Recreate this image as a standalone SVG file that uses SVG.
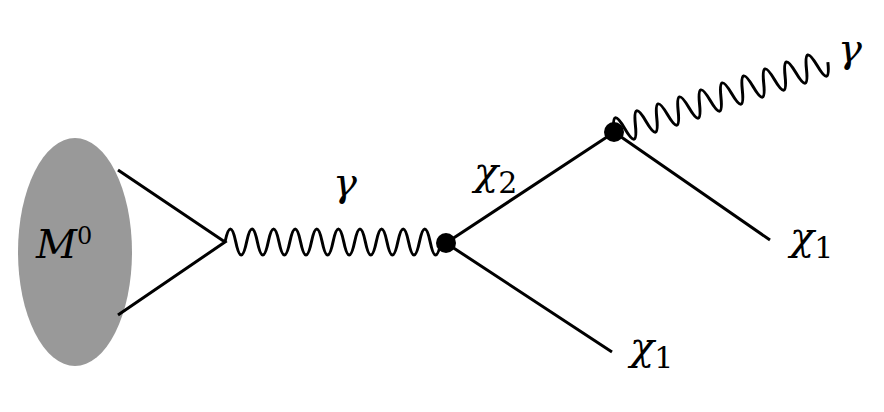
<svg xmlns="http://www.w3.org/2000/svg" width="884" height="412" viewBox="0 0 884 412">
<style>
.l{stroke:#000;stroke-width:3;fill:none}
.w{stroke:#000;stroke-width:3;fill:none}
.t{font-family:'DejaVu Serif','Liberation Serif',serif;font-size:40px;fill:#000}
</style>
<rect width="884" height="412" fill="#fff"/>
<g id="blob"><ellipse cx="75" cy="252" rx="57" ry="114" fill="#999"/>
<text class="t" x="36" y="258" font-style="italic" font-size="32">M<tspan font-size="24" dy="-14" font-style="normal">0</tspan></text></g>
<g id="connectors">
<path class="l" d="M118,170 L225,242 L118,315"/>
<path class="w" d="M225,242 q5.4,-26 10.8,0 t10.8,0 t10.8,0 t10.8,0 t10.8,0 t10.8,0 t10.8,0 t10.8,0 t10.8,0 t10.8,0 t10.8,0 t10.8,0 t10.8,0 t10.8,0 t10.8,0 t10.8,0 t10.8,0 t10.8,0 t10.8,0 t10.8,0"/>
<path class="l" d="M446,243 L613,133 M446,243 L612,352 M614,132 L770,240"/>
<path class="w" transform="translate(614,132) rotate(-18.1)" d="M0,0 q5.6,-26 11.25,0 t11.25,0 t11.25,0 t11.25,0 t11.25,0 t11.25,0 t11.25,0 t11.25,0 t11.25,0 t11.25,0 t11.25,0 t11.25,0 t11.25,0 t11.25,0 t11.25,0 t11.25,0 t11.25,0 t11.25,0 t11.25,0 t11.25,0"/>
</g>
<g id="v1"><circle cx="446" cy="243" r="10"/></g>
<g id="v2"><circle cx="614" cy="132" r="10"/></g>
<g id="labels">
<text class="t" x="333" y="196" font-style="italic">γ</text>
<text class="t" x="838" y="62" font-style="italic" font-size="34">γ</text>
<text class="t" x="474" y="185" font-style="italic">χ<tspan font-style="normal" font-size="30" dy="8">2</tspan></text>
<text class="t" x="630" y="360" font-style="italic">χ<tspan font-style="normal" font-size="30" dy="8">1</tspan></text>
<text class="t" x="790" y="250" font-style="italic">χ<tspan font-style="normal" font-size="30" dy="8">1</tspan></text>
</g>
</svg>
